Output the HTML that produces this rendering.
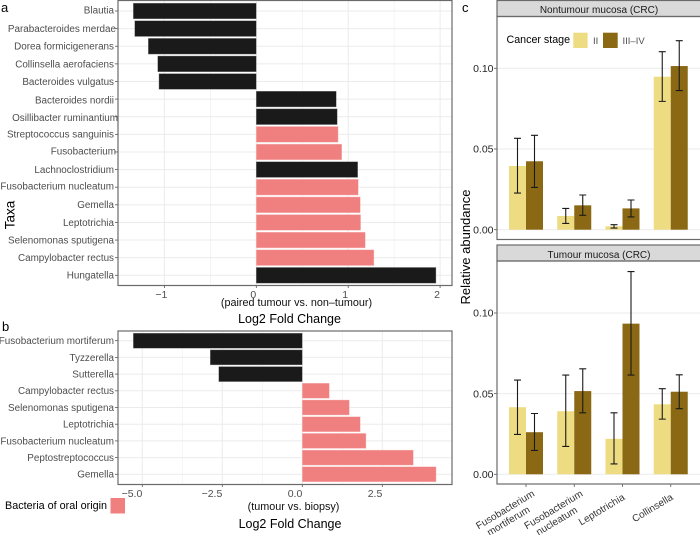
<!DOCTYPE html>
<html>
<head>
<meta charset="utf-8">
<title>Differential abundance of taxa</title>
<style>
html,body{margin:0;padding:0;background:#fff;width:700px;height:535px;overflow:hidden}
svg{display:block;font-family:"Liberation Sans",Arial,Helvetica,sans-serif}
</style>
</head>
<body>
<svg id="fig" xmlns="http://www.w3.org/2000/svg" width="700" height="535" viewBox="0 0 700 535">
  <rect width="700" height="535" fill="#fff"/>
  <g id="layer-grid"></g>
  <g id="layer-marks"></g>
  <g id="layer-axes"></g>

  <rect x="118" y="0.5" width="334" height="285" fill="none" stroke="#6a6a6a" stroke-width="1.2"/>
  <rect x="118" y="331" width="334" height="153.5" fill="none" stroke="#6a6a6a" stroke-width="1.2"/>

  <text x="1" y="12" font-size="13" fill="#000">a</text>
  <text x="2" y="331" font-size="13" fill="#000">b</text>
  <text x="462" y="12" font-size="13" fill="#000">c</text>

  <text transform="translate(14.5,215) rotate(-90)" text-anchor="middle" font-size="13.5" fill="#000">Taxa</text>
  <text x="296.5" y="306" text-anchor="middle" font-size="10.8" fill="#111">(paired tumour vs. non–tumour)</text>
  <text x="289.5" y="323" text-anchor="middle" font-size="12.5" fill="#000">Log2 Fold Change</text>
  <text x="293.5" y="510" text-anchor="middle" font-size="10.8" fill="#111">(tumour vs. biopsy)</text>
  <text x="290" y="528" text-anchor="middle" font-size="12.5" fill="#000">Log2 Fold Change</text>

  <text x="5" y="509" font-size="10.8" fill="#000">Bacteria of oral origin</text>
  <rect x="110.5" y="498" width="14.5" height="15.5" fill="#f08080"/>

  <rect x="497" y="0.5" width="204" height="16" fill="#d9d9d9" stroke="#6a6a6a" stroke-width="1.2"/>
  <text x="599" y="13" text-anchor="middle" font-size="10" fill="#1a1a1a">Nontumour mucosa (CRC)</text>
  <rect x="497" y="16.5" width="204" height="223" fill="none" stroke="#6a6a6a" stroke-width="1.2"/>
  <rect x="497" y="245" width="204" height="16" fill="#d9d9d9" stroke="#6a6a6a" stroke-width="1.2"/>
  <text x="599" y="258" text-anchor="middle" font-size="10" fill="#1a1a1a">Tumour mucosa (CRC)</text>
  <rect x="497" y="261" width="204" height="223" fill="none" stroke="#6a6a6a" stroke-width="1.2"/>

  <text transform="translate(470,247) rotate(-90)" text-anchor="middle" font-size="13" fill="#000">Relative abundance</text>

  <text x="506.5" y="43" font-size="10.7" fill="#000">Cancer stage</text>
  <rect x="573.3" y="32.7" width="14.3" height="15.3" fill="#eedc82"/>
  <text x="593" y="44" font-size="9.5" fill="#4d4d4d">II</text>
  <rect x="603" y="32.7" width="14.7" height="15.3" fill="#8b6914"/>
  <text x="622.5" y="44" font-size="9.5" fill="#4d4d4d">III–IV</text>
</svg>

<script>
// Panel a: paired tumour vs. non-tumour
const taxaA = ["Blautia","Parabacteroides merdae","Dorea formicigenerans","Collinsella aerofaciens","Bacteroides vulgatus","Bacteroides nordii","Osillibacter ruminantium","Streptococcus sanguinis","Fusobacterium","Lachnoclostridium","Fusobacterium nucleatum","Gemella","Leptotrichia","Selenomonas sputigena","Campylobacter rectus","Hungatella"];
const log2fcA = [-1.338,-1.323,-1.175,-1.073,-1.059,0.87,0.88,0.89,0.93,1.103,1.11,1.132,1.135,1.186,1.28,1.955];
const oralA = [0,0,0,0,0,0,0,1,1,0,1,1,1,1,1,0];
const ticksA = [-1,0,1,2];
const tickLabelsA = ["−1","0","1","2"];
const minorTicksA = [-0.5,0.5,1.5];

// Panel b: tumour vs. biopsy
const taxaB = ["Fusobacterium mortiferum","Tyzzerella","Sutterella","Campylobacter rectus","Selenomonas sputigena","Leptotrichia","Fusobacterium nucleatum","Peptostreptococcus","Gemella"];
const log2fcB = [-5.28,-2.875,-2.61,0.844,1.47,1.81,1.99,3.47,4.18];
const oralB = [0,0,0,1,1,1,1,1,1];
const ticksB = [-5,-2.5,0,2.5];
const tickLabelsB = ["−5.0","−2.5","0.0","2.5"];
const minorTicksB = [-3.75,-1.25,1.25,3.75];

// Panel c: relative abundance
const categoriesC = [["Fusobacterium","mortiferum"],["Fusobacterium","nucleatum"],["Leptotrichia"],["Collinsella"]];
const ticksC = [0,0.05,0.1];
const tickLabelsC = ["0.00","0.05","0.10"];
const nonII = [0.0395,0.0085,0.0021,0.0948];
const nonIIlo = [0.0227,0.0039,0.001,0.0795];
const nonIIhi = [0.0566,0.0132,0.0031,0.1103];
const nonIII = [0.0424,0.0151,0.0132,0.1014];
const nonIIIlo = [0.0262,0.0089,0.0079,0.0862];
const nonIIIhi = [0.0585,0.0215,0.0184,0.1171];
const tumII = [0.0416,0.0391,0.022,0.0434];
const tumIIlo = [0.0247,0.0173,0.0064,0.0342];
const tumIIhi = [0.0584,0.0615,0.0381,0.0531];
const tumIII = [0.0261,0.0516,0.0934,0.0512];
const tumIIIlo = [0.0148,0.0381,0.0615,0.0407];
const tumIIIhi = [0.0377,0.0654,0.1257,0.0617];

const NS = "http://www.w3.org/2000/svg";
const gridLayer = document.getElementById("layer-grid");
const markLayer = document.getElementById("layer-marks");
const axisLayer = document.getElementById("layer-axes");

function make(tag, parent, attrs, text) {
  const el = document.createElementNS(NS, tag);
  for (const k in attrs) el.setAttribute(k, attrs[k]);
  if (text !== undefined) el.textContent = text;
  parent.appendChild(el);
  return el;
}
function slug(s) { return String(s).toLowerCase().replace(/[^a-z0-9]+/g, "-").replace(/^-|-$/g, ""); }

// Axis functions
const xA = v => 256.3 + v * 91.9;
const rowA = i => 11 + i * 17.62;
const xB = v => 302.3 + v * 32;
const rowB = i => 340.7 + i * 16.7;
const xC = i => 526 + i * 48.25;
const yTop = v => 229.7 - v * 1614;
const yBot = v => 474.3 - v * 1613;

// Small manual offsets of the row labels in the source figure
const nudgeA = {"Parabacteroides merdae":[2,0],"Osillibacter ruminantium":[4,1],"Fusobacterium":[2,-1],"Fusobacterium nucleatum":[0,-1],"Bacteroides nordii":[0,1],"Blautia":[0,-1]};

function drawBarPanel(name, taxa, vals, oral, ticks, labels, minor, xf, rf, barH, top, bottom, fontSize, nudge, tickY, tickOffset, tickAnchor) {
  minor.forEach(t => {
    const l = make("line", gridLayer, {x1:xf(t), x2:xf(t), y1:top, y2:bottom, stroke:"#f0f0f0", "stroke-width":0.7});
    
    
  });
  ticks.forEach((t, i) => {
    const l = make("line", gridLayer, {x1:xf(t), x2:xf(t), y1:top, y2:bottom, stroke:"#ebebeb", "stroke-width":1});
    
    
    const m = make("line", axisLayer, {x1:xf(t), x2:xf(t), y1:bottom, y2:bottom + 3, stroke:"#555", "stroke-width":0.8});
    
    
    const lbl = make("text", axisLayer, {x:xf(t) + tickOffset, y:tickY, "text-anchor":tickAnchor, "font-size":10.5, fill:"#4d4d4d"}, labels[i]);
    
    
  });
  taxa.forEach((taxon, i) => {
    const y = rf(i);
    const g = make("line", gridLayer, {x1:118, x2:452, y1:y, y2:y, stroke:"#ebebeb", "stroke-width":1});
    
    
    const x0 = xf(0), x1 = xf(vals[i]);
    const bar = make("rect", markLayer, {x:Math.min(x0, x1), y:y - barH / 2, width:Math.abs(x1 - x0), height:barH, fill:oral[i] ? "#f08080" : "#1a1a1a", stroke:oral[i] ? "#f9c0c0" : "#8a8a8a", "stroke-width":0.4});
    
    
    const tick = make("line", axisLayer, {x1:115, x2:118, y1:y, y2:y, stroke:"#555", "stroke-width":0.8});
    
    
    const n = nudge[taxon] || [0, 0];
    const lbl = make("text", axisLayer, {x:114 + n[0], y:y + 3.4 + n[1], "text-anchor":"end", "font-size":fontSize, fill:"#4d4d4d"}, taxon);
    
    
  });
}

drawBarPanel("panel-a", taxaA, log2fcA, oralA, ticksA, tickLabelsA, minorTicksA, xA, rowA, 15.7, 1, 285, 9.9, nudgeA, 298, -3, "middle");
drawBarPanel("panel-b", taxaB, log2fcB, oralB, ticksB, tickLabelsB, minorTicksB, xB, rowB, 15, 331, 484, 9.9, {}, 497, 0, "end");

function drawGroup(name, yf, seriesII, loII, hiII, seriesIII, loIII, hiIII, top, bottom) {
  ticksC.forEach((t, i) => {
    const g = make("line", gridLayer, {x1:497, x2:700, y1:yf(t), y2:yf(t), stroke:"#ebebeb", "stroke-width":1});
    
    
    const tick = make("line", axisLayer, {x1:494, x2:497, y1:yf(t), y2:yf(t), stroke:"#555", "stroke-width":0.8});
    
    
    const lbl = make("text", axisLayer, {x:493.5, y:yf(t) + 3.7, "text-anchor":"end", "font-size":10.5, fill:"#262626"}, tickLabelsC[i]);
    
    
  });
  const W = 17;
  const series = [
    {key:"stage-ii", vals:seriesII, lo:loII, hi:hiII, fill:"#eedc82", off:-W},
    {key:"stage-iii-iv", vals:seriesIII, lo:loIII, hi:hiIII, fill:"#8b6914", off:0}
  ];
  series.forEach(s => {
    s.vals.forEach((v, i) => {
      const bx = xC(i) + s.off;
      const bar = make("rect", markLayer, {x:bx, y:yf(v), width:W, height:yf(0) - yf(v), fill:s.fill});
      
      
    });
  });
  series.forEach(s => {
    s.vals.forEach((v, i) => {
      const cx = xC(i) + s.off + W / 2;
      const d = "M" + (cx - 3.5) + " " + yf(s.hi[i]) + "H" + (cx + 3.5) + "M" + cx + " " + yf(s.hi[i]) + "V" + yf(s.lo[i]) + "M" + (cx - 3.5) + " " + yf(s.lo[i]) + "H" + (cx + 3.5);
      const eb = make("path", markLayer, {d:d, fill:"none", stroke:"#1a1a1a", "stroke-width":1.1});
      
      
    });
  });
}
drawGroup("nontumour", yTop, nonII, nonIIlo, nonIIhi, nonIII, nonIIIlo, nonIIIhi, 17, 239);
drawGroup("tumour", yBot, tumII, tumIIlo, tumIIhi, tumIII, tumIIIlo, tumIIIhi, 261, 484);

categoriesC.forEach((lines, i) => {
  const cx = xC(i);
  const tick = make("line", axisLayer, {x1:cx, x2:cx, y1:484, y2:487, stroke:"#555", "stroke-width":0.8});
  
  
  const two = lines.length > 1;
  const ox = two ? cx + 10 : cx + 3;
  const oy = two ? 495 : 499;
  const g = make("text", axisLayer, {transform:"translate(" + ox + "," + oy + ") rotate(-31)", "font-size":10, fill:"#333", "text-anchor":two ? "middle" : "end"});
  
  
  lines.forEach((line, j) => {
    make("tspan", g, {x:two ? (j ? -37 : -34) : 0, dy:j ? 11.3 : 0}, line);
  });
});
</script>
</body>
</html>
